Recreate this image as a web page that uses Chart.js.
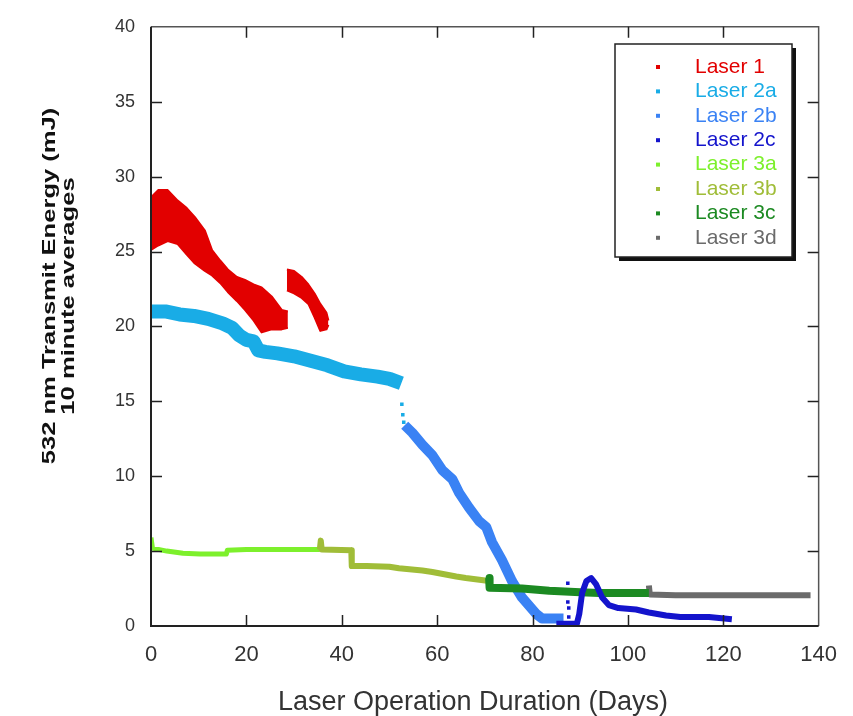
<!DOCTYPE html>
<html>
<head>
<meta charset="utf-8">
<title>532 nm Transmit Energy</title>
<script src="https://cdn.jsdelivr.net/npm/chart.js@4.4.1/dist/chart.umd.min.js"></script>
<style>
  html, body { margin: 0; padding: 0; background: #fff; }
</style>
</head>
<body>
<canvas id="energyChart" width="853" height="716"></canvas>
<script>
const seriesNames = ["Laser 1", "Laser 2a", "Laser 2b", "Laser 2c", "Laser 3a", "Laser 3b", "Laser 3c", "Laser 3d"];
const seriesColors = ["#e20000", "#19ace6", "#3a82f4", "#1414cc", "#7df02c", "#a0bd38", "#1c8a22", "#6b6b6b"];

const dayTicks = [0, 20, 40, 60, 80, 100, 120, 140];
const energyTicks = [0, 5, 10, 15, 20, 25, 30, 35, 40];

// Laser 1 is a wide cloud of averages, kept as upper / lower edges (two runs)
const laser1DaysA  = [0, 1.5, 3.5, 5.6, 7.5, 9.2, 11.3, 12.8, 14.5, 16.1, 18, 19.7, 21.5, 23.2, 25.3, 27.4, 28.7];
const laser1UpperA = [28.6, 29.1, 29.1, 28.4, 27.9, 27.3, 26.4, 25.1, 24.4, 23.8, 23.3, 23.1, 22.8, 22.6, 22.0, 21.1, 21.0];
const laser1LowerA = [25.1, 25.4, 25.7, 25.5, 24.8, 24.2, 23.7, 23.4, 22.9, 22.3, 21.7, 21.1, 20.4, 19.6, 19.8, 19.8, 19.9];

const laser1DaysB  = [28.5, 30, 31.6, 33, 34.3, 35.5, 36.8, 37.2];
const laser1UpperB = [23.8, 23.7, 23.3, 22.8, 22.2, 21.5, 20.9, 20.4];
const laser1LowerB = [22.4, 22.2, 21.9, 21.5, 20.6, 19.7, 19.8, 20.1];

const laser2aDays   = [0, 3, 6, 9, 12, 15, 17, 18.5, 20, 21.5, 22.5, 24, 26.5, 30, 33.5, 37, 40.5, 44, 47.5, 50, 52.5];
const laser2aEnergy = [21.0, 21.0, 20.8, 20.7, 20.5, 20.2, 19.9, 19.4, 19.1, 19.0, 18.4, 18.3, 18.2, 18.0, 17.7, 17.4, 17.0, 16.8, 16.65, 16.5, 16.2];
const laser2aTailDays   = [52.6, 52.8, 53.0];
const laser2aTailEnergy = [14.8, 14.1, 13.6];

const laser2bDays   = [53.2, 54.8, 56.9, 59, 61.1, 63.2, 64.6, 66.7, 68.8, 70.3, 71.5, 73.6, 75.7, 77.8, 80.8, 82, 86.5];
const laser2bEnergy = [13.4, 12.9, 12.1, 11.4, 10.4, 9.8, 8.9, 7.9, 7.0, 6.6, 5.6, 4.4, 3.0, 1.9, 0.8, 0.5, 0.5];

const laser2cDays   = [85, 89.3, 89.8, 90.4, 91.3, 92.3, 93.3, 94.6, 96, 98, 101.7, 104.4, 108, 111, 117, 121.8];
const laser2cEnergy = [0.15, 0.15, 0.8, 2.2, 3.0, 3.2, 2.8, 1.9, 1.4, 1.2, 1.1, 0.9, 0.7, 0.6, 0.6, 0.45];
const laser2cSpotDays   = [87.4, 87.4, 87.6, 87.6];
const laser2cSpotEnergy = [2.85, 1.6, 1.2, 0.6];

const laser3aDays   = [0, 0.3, 3.3, 6.7, 10.3, 15.8, 16, 20, 35.4];
const laser3aEnergy = [5.9, 5.2, 5.0, 4.85, 4.8, 4.8, 5.05, 5.1, 5.1];

const laser3bDays   = [35.4, 35.6, 35.8, 42, 42.1, 45.2, 50, 52, 56.9, 59, 64, 66, 70.9];
const laser3bEnergy = [5.1, 5.7, 5.1, 5.05, 4.0, 4.0, 3.95, 3.85, 3.7, 3.6, 3.3, 3.2, 3.0];

const laser3cDays   = [70.9, 71, 77.8, 83.5, 90, 94, 104.4];
const laser3cEnergy = [3.2, 2.55, 2.5, 2.35, 2.25, 2.2, 2.2];

const laser3dDays   = [104.4, 104.6, 110, 138.3];
const laser3dEnergy = [2.7, 2.1, 2.05, 2.05];

const pts = (xs, ys) => xs.map((x, i) => ({ x: x, y: ys[i] }));

function trace(label, xs, ys, color, width, order) {
  return {
    label: label,
    data: pts(xs, ys),
    borderColor: color,
    backgroundColor: color,
    borderWidth: width,
    borderJoinStyle: "round",
    pointRadius: 0,
    fill: false,
    order: order,
  };
}

function spots(label, xs, ys, color, order) {
  return {
    label: label,
    data: pts(xs, ys),
    showLine: false,
    pointStyle: "rect",
    pointRadius: 2.5,
    pointBorderWidth: 0,
    backgroundColor: color,
    borderColor: color,
    order: order,
  };
}

const red = seriesColors[0];
const datasets = [
  Object.assign(trace(seriesNames[0], laser1DaysA, laser1UpperA, red, 2, 0), { fill: "+1" }),
  trace(seriesNames[0], laser1DaysA, laser1LowerA, red, 2, 0),
  Object.assign(trace(seriesNames[0], laser1DaysB, laser1UpperB, red, 2, 0), { fill: "+1" }),
  trace(seriesNames[0], laser1DaysB, laser1LowerB, red, 2, 0),
  trace(seriesNames[1], laser2aDays, laser2aEnergy, seriesColors[1], 14, 5),
  spots(seriesNames[1], laser2aTailDays, laser2aTailEnergy, seriesColors[1], 5),
  trace(seriesNames[2], laser2bDays, laser2bEnergy, seriesColors[2], 10, 4),
  trace(seriesNames[3], laser2cDays, laser2cEnergy, seriesColors[3], 6, 1),
  spots(seriesNames[3], laser2cSpotDays, laser2cSpotEnergy, seriesColors[3], 1),
  trace(seriesNames[4], laser3aDays, laser3aEnergy, seriesColors[4], 5, 7),
  trace(seriesNames[5], laser3bDays, laser3bEnergy, seriesColors[5], 6, 6),
  trace(seriesNames[6], laser3cDays, laser3cEnergy, seriesColors[6], 8, 2),
  trace(seriesNames[7], laser3dDays, laser3dEnergy, seriesColors[7], 6, 3),
];

// box around the plot with inward tick marks on all four sides
const framePlugin = {
  id: "frame",
  afterDatasetsDraw(chart) {
    const { ctx, chartArea: a, scales } = chart;
    ctx.save();
    ctx.strokeStyle = "#555";
    ctx.lineWidth = 1.5;
    ctx.beginPath();
    ctx.moveTo(a.left, a.top);
    ctx.lineTo(a.right, a.top);
    ctx.lineTo(a.right, a.bottom);
    ctx.stroke();

    ctx.strokeStyle = "#222";
    ctx.lineWidth = 2;
    ctx.beginPath();
    ctx.moveTo(a.left, a.top);
    ctx.lineTo(a.left, a.bottom);
    ctx.lineTo(a.right, a.bottom);
    ctx.stroke();

    const len = 11;
    ctx.lineWidth = 1.5;
    ctx.beginPath();
    dayTicks.slice(1, -1).forEach(v => {
      const x = Math.round(scales.x.getPixelForValue(v)) + 0.5;
      ctx.moveTo(x, a.bottom); ctx.lineTo(x, a.bottom - len);
      ctx.moveTo(x, a.top); ctx.lineTo(x, a.top + len);
    });
    energyTicks.slice(1, -1).forEach(v => {
      const y = Math.round(scales.y.getPixelForValue(v)) + 0.5;
      ctx.moveTo(a.left, y); ctx.lineTo(a.left + len, y);
      ctx.moveTo(a.right, y); ctx.lineTo(a.right - len, y);
    });
    ctx.stroke();
    ctx.restore();
  },
};

// axis titles and the boxed legend with a drop shadow
const labelPlugin = {
  id: "labels",
  afterDraw(chart) {
    const ctx = chart.ctx;
    ctx.save();

    ctx.fillStyle = "#111";
    ctx.textAlign = "center";
    ctx.textBaseline = "middle";
    ctx.font = 'bold 18px "Liberation Sans", Arial, sans-serif';
    [["532 nm Transmit Energy (mJ)", 50, 286], ["10 minute averages", 69, 296]].forEach(([text, x, y]) => {
      ctx.save();
      ctx.translate(x, y);
      ctx.rotate(-Math.PI / 2);
      ctx.scale(1.42, 1);
      ctx.fillText(text, 0, 0);
      ctx.restore();
    });

    ctx.fillStyle = "#333";
    ctx.textBaseline = "alphabetic";
    ctx.font = '27px "Liberation Sans", Arial, sans-serif';
    ctx.fillText("Laser Operation Duration (Days)", 473, 710);

    const box = { left: 615, top: 44, width: 177, height: 213 };
    ctx.fillStyle = "#111";
    ctx.fillRect(box.left + 4, box.top + 4, box.width, box.height);
    ctx.fillStyle = "#fff";
    ctx.fillRect(box.left, box.top, box.width, box.height);
    ctx.strokeStyle = "#222";
    ctx.lineWidth = 1.5;
    ctx.strokeRect(box.left, box.top, box.width, box.height);

    ctx.textAlign = "left";
    ctx.textBaseline = "middle";
    ctx.font = '21px "Liberation Sans", Arial, sans-serif';
    seriesNames.forEach((name, i) => {
      const y = box.top + 23 + i * 24.4;
      ctx.fillStyle = seriesColors[i];
      ctx.fillRect(box.left + 41, y - 2, 4, 4);
      ctx.fillText(name, box.left + 80, y);
    });
    ctx.restore();
  },
};

const fontFamily = '"Liberation Sans", Arial, sans-serif';

new Chart(document.getElementById("energyChart"), {
  type: "line",
  data: { datasets: datasets },
  options: {
    responsive: false,
    animation: false,
    layout: { padding: { top: 22, right: 33, left: 0, bottom: 0 } },
    elements: { line: { tension: 0 } },
    plugins: {
      legend: { display: false },
      tooltip: { enabled: false },
    },
    scales: {
      x: {
        type: "linear",
        min: 0,
        max: 140,
        afterBuildTicks: s => { s.ticks = dayTicks.map(v => ({ value: v })); },
        afterFit: s => { s.height = 90; },
        grid: { display: false, drawTicks: false },
        border: { display: false },
        ticks: { padding: 16, color: "#333", font: { family: fontFamily, size: 22 }, maxRotation: 0 },
      },
      y: {
        type: "linear",
        min: 0,
        max: 40,
        afterBuildTicks: s => { s.ticks = energyTicks.map(v => ({ value: v })); },
        afterFit: s => { s.width = 151; },
        grid: { display: false, drawTicks: false },
        border: { display: false },
        ticks: { padding: 16, color: "#333", font: { family: fontFamily, size: 18 } },
      },
    },
  },
  plugins: [framePlugin, labelPlugin],
});
</script>
</body>
</html>
